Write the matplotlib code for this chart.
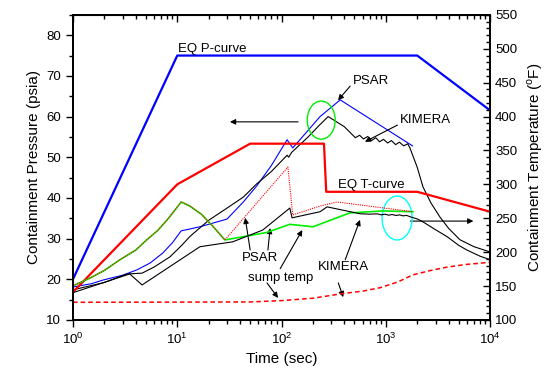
import matplotlib
matplotlib.use("Agg")
import matplotlib.pyplot as plt
from matplotlib.patches import Ellipse
from matplotlib.ticker import MultipleLocator

plt.rcParams["font.family"] = ["Liberation Sans", "DejaVu Sans"]
plt.rcParams["mathtext.fontset"] = "custom"
plt.rcParams["mathtext.rm"] = "Liberation Sans"

# ---- pressure curves (psia, left axis) ----
eq_p_t = [1, 10, 2000, 10000]
eq_p = [20.0, 75.0, 75.0, 61.5]

psar_p_t = [1, 1.5, 1.94, 3, 4.1, 5.5, 7.3, 9, 10.9, 16.5, 30, 43, 58, 80, 113, 128, 150, 234, 365, 1800]
psar_p = [18.1, 18.9, 19.8, 21.0, 22.3, 24.0, 26.5, 29.0, 31.9, 32.9, 34.8, 39.0, 43.0, 48.0, 54.3, 52.3,
          54.3, 60.0, 64.1, 52.8]

kim_p_t = [1, 2, 3.3, 4.6, 6, 8.5, 11, 13.2, 20, 30, 43, 58, 80, 113, 117, 125, 180, 233, 280,
           400, 510, 560, 610, 670, 730, 800, 870, 950, 1040, 1130, 1240, 1350, 1480, 1620, 1700,
           2000, 2270, 2700, 3300, 4000, 5140, 7000, 10000]
kim_p = [17.4, 19.2, 21.3, 21.5, 23.0, 25.5, 28.3, 30.5, 34.5, 37.5, 40.2, 43.5, 46.5, 50.5, 50.0, 51.2,
         55.0, 58.0, 60.0, 57.5, 54.8, 55.4, 54.5, 55.1, 54.1, 54.8, 53.8, 54.4, 53.5, 54.1, 53.1, 53.7,
         52.8, 53.3, 52.3, 47.5, 42.7, 38.8, 35.3, 32.5, 29.7, 28.0, 26.7]

# ---- temperature curves (F, right axis) ----
eq_t_t = [1, 10, 50, 255, 268, 2000, 10000]
eq_t = [141, 300, 360, 360, 289, 289, 259.6]

green_t = [1, 1.46, 2, 2.82, 4, 5.1, 6.5, 8, 9.5, 10.9, 13.2, 17, 22, 28.6, 46, 72, 120, 200, 450,
           940, 1820]
green_T = [150.4, 161.8, 173, 188.8, 203, 218.2, 232, 247.6, 262, 274, 268, 256, 238, 218, 223.6, 229,
           241, 237.4, 257.8, 260.8, 259.6]

psar_T_t = [1, 1.46, 2, 2.82, 4, 5.1, 6.5, 8, 9.5, 10.9, 13.2, 17, 22, 28.6, 115, 128, 234, 340, 1820]
psar_T = [150.4, 161.8, 173, 188.8, 203, 218.2, 232, 247.6, 262, 274, 268, 256, 238, 218, 325.6, 254.8,
          268, 274, 259.6]

kim_T_t = [1, 3.5, 4.6, 16.5, 34, 66, 120, 126, 234, 273, 566, 700, 830, 900, 980, 1060, 1150,
           1250, 1350, 1460, 1580, 1720, 2000, 2270, 3000, 3900, 5000, 6000, 8000, 10000]
kim_T = [140.2, 167.8, 151.6, 208, 215.2, 232.6, 265, 250.6, 259.6, 266.8, 256.6, 256, 256.5, 255, 256,
         254.5, 255.5, 254, 255, 253.5, 254.2, 252, 249, 244.6, 233, 222.4, 210, 203, 194, 188.8]

sump_t = [1, 50, 100, 200, 390, 600, 880, 1300, 1820, 2700, 3900, 6000, 10000]
sump_T = [126, 126.5, 128.5, 132, 139, 142.5, 147.5, 156, 166.5, 173, 178, 182, 185]

fig = plt.figure(figsize=(5.57, 3.72), dpi=100)
ax = fig.add_axes([0.131, 0.140, 0.749, 0.820])
ax2 = ax.twinx()

ax.plot(eq_p_t, eq_p, color="#0000ff", lw=1.6)
ax.plot(psar_p_t, psar_p, color="#0000ff", lw=0.8)
ax.plot(kim_p_t, kim_p, color="black", lw=0.8)

ax2.plot(eq_t_t, eq_t, color="#ff0000", lw=1.6)
ax2.plot(green_t, green_T, color="#00ee00", lw=1.2)
ax2.plot(psar_T_t, psar_T, color="#ff0000", lw=0.8, ls=(0, (1, 1)))
ax2.plot(kim_T_t, kim_T, color="black", lw=0.8)
ax2.plot(sump_t, sump_T, color="#ff0000", lw=1.1, ls=(0, (3, 2)))

ax.set_xscale("log")
ax.set_xlim(1, 1e4)
ax.set_ylim(10, 85)
ax2.set_ylim(100, 550)
ax.yaxis.set_major_locator(MultipleLocator(10))
ax.yaxis.set_minor_locator(MultipleLocator(5))
ax2.yaxis.set_major_locator(MultipleLocator(50))
ax2.yaxis.set_minor_locator(MultipleLocator(10))

ax.set_xlabel("Time (sec)", fontsize=11, labelpad=4)
ax.set_ylabel("Containment Pressure (psia)", fontsize=11)
ax2.set_ylabel(r"Containment Temperature ($^{\rm o}$F)", fontsize=11, labelpad=6)

ax.tick_params(axis="both", which="both", labelsize=9.5, width=1.0)
ax.tick_params(axis="x", which="major", direction="out", length=5, top=False)
ax.tick_params(axis="x", which="minor", direction="out", length=3, top=False)
ax.tick_params(axis="y", which="major", direction="out", length=5)
ax.tick_params(axis="y", which="minor", direction="out", length=3)
ax2.tick_params(axis="y", which="major", direction="in", length=5, labelsize=9.5, width=1.0)
ax2.tick_params(axis="y", which="minor", direction="in", length=3, width=1.0)

top = ax.secondary_xaxis("top")
top.tick_params(axis="x", which="major", direction="in", length=5, labeltop=False, width=1.0)
top.tick_params(axis="x", which="minor", direction="in", length=3, width=1.0)

for a in (ax, ax2):
    for s in a.spines.values():
        s.set_linewidth(1.3)

# annotations (left-axis coordinates)
arrow = dict(arrowstyle="-|>", color="black", lw=0.8, mutation_scale=8, shrinkA=0, shrinkB=0)
fs = 9.5
ax.text(10.2, 76.7, "EQ P-curve", fontsize=fs, va="center")
ax.text(350, 43.2, "EQ T-curve", fontsize=fs, va="center")
ax.text(488, 68.8, "PSAR", fontsize=fs, va="center")
ax.annotate("", xy=(348, 64.0), xytext=(455, 67.5), arrowprops=arrow)
ax.text(1370, 59.2, "KIMERA", fontsize=fs, va="center")
ax.annotate("", xy=(630, 53.8), xytext=(1290, 57.9), arrowprops=arrow)
ax.annotate("", xy=(32, 58.7), xytext=(144, 58.7), arrowprops=arrow)
ax.annotate("", xy=(6900, 34.3), xytext=(1720, 34.3), arrowprops=arrow)

ax.text(62, 25.3, "PSAR", fontsize=fs, ha="center", va="center")
ax.annotate("", xy=(44.8, 35.1), xytext=(50, 27.2), arrowprops=arrow)
ax.annotate("", xy=(77.7, 32.6), xytext=(74, 27.2), arrowprops=arrow)

ax.text(97, 20.3, "sump temp", fontsize=fs, ha="center", va="center")
ax.annotate("", xy=(158, 32.1), xytext=(97, 22.6), arrowprops=arrow)
ax.annotate("", xy=(92.6, 15.4), xytext=(72.5, 19.1), arrowprops=arrow)

ax.text(390, 23.0, "KIMERA", fontsize=fs, ha="center", va="center")
ax.annotate("", xy=(565, 34.6), xytext=(408, 24.8), arrowprops=arrow)
ax.annotate("", xy=(390, 15.6), xytext=(350, 19.1), arrowprops=arrow)

ax2.add_patch(Ellipse((0.595, 0.655), 0.067, 0.125, transform=ax.transAxes,
                      fill=False, ec="#00ee00", lw=1.0))
ax2.add_patch(Ellipse((0.777, 0.334), 0.072, 0.144, transform=ax.transAxes,
                      fill=False, ec="#00ffff", lw=1.0))

fig.savefig("out.png", dpi=100)
